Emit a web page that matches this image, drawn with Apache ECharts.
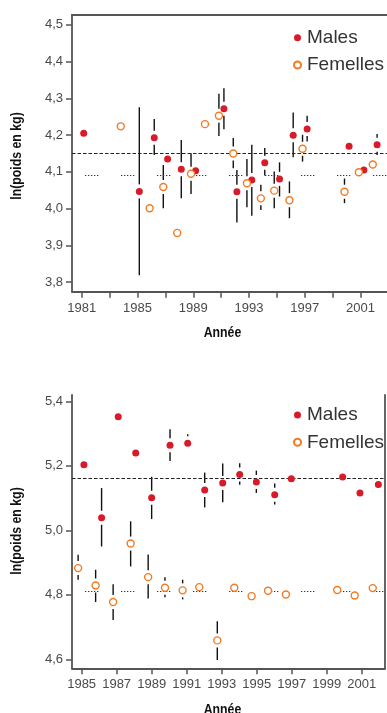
<!DOCTYPE html>
<html>
<head>
<meta charset="utf-8">
<script src="https://cdn.jsdelivr.net/npm/echarts@6/dist/echarts.min.js"></script>
<style>
html,body{margin:0;padding:0;background:#fff;}
#chart{width:387px;height:713px;}
</style>
</head>
<body>
<div id="chart"></div>
<script>
// ---------- Top panel data ----------
const topMaleX      = [1981.14, 1985.13, 1986.2, 1987.16, 1988.14, 1989.17, 1991.2, 1992.13, 1993.2, 1994.13, 1995.19, 1996.17, 1997.17, 2000.18, 2001.24, 2002.19];
const topMaleValues = [4.205, 4.047, 4.193, 4.135, 4.107, 4.103, 4.272, 4.046, 4.078, 4.125, 4.081, 4.200, 4.217, 4.170, 4.105, 4.174];
const topMaleLow    = [null, 3.819, 4.146, null, 4.028, null, 4.216, 3.962, 3.981, 4.090, 4.033, 4.140, 4.183, null, null, 4.146];
const topMaleHigh   = [null, 4.276, 4.244, null, 4.187, null, 4.328, 4.105, 4.174, 4.165, 4.126, 4.262, 4.253, null, null, 4.203];

const topFemaleX      = [1983.8, 1985.87, 1986.85, 1987.85, 1988.84, 1989.84, 1990.84, 1991.87, 1992.85, 1993.85, 1994.81, 1995.9, 1996.84, 1999.85, 2000.88, 2001.88];
const topFemaleValues = [4.224, 4.001, 4.059, 3.934, 4.095, 4.230, 4.253, 4.150, 4.069, 4.028, 4.049, 4.023, 4.163, 4.046, 4.099, 4.120];
const topFemaleLow    = [null, null, 4.001, null, 4.040, null, 4.198, 4.110, 4.004, 3.996, 4.001, 3.974, 4.128, 4.015, null, null];
const topFemaleHigh   = [null, null, 4.119, null, 4.151, null, 4.313, 4.192, 4.135, 4.065, 4.101, 4.074, 4.201, 4.082, null, null];

const topMaleMean = 4.15;
const topFemaleMean = 4.09;
const topYTicks = [3.8, 3.9, 4.0, 4.1, 4.2, 4.3, 4.4, 4.5];
const topXTicks = [1981, 1983, 1985, 1987, 1989, 1991, 1993, 1995, 1997, 1999, 2001];
const topXLabels = [1981, 1985, 1989, 1993, 1997, 2001];

// ---------- Bottom panel data ----------
const botMaleX      = [1985.13, 1986.14, 1987.09, 1988.09, 1989.0, 1990.05, 1991.06, 1992.03, 1993.06, 1994.03, 1994.98, 1996.03, 1996.98, 1999.91, 2000.9, 2001.95];
const botMaleValues = [5.203, 5.039, 5.352, 5.240, 5.101, 5.264, 5.270, 5.125, 5.147, 5.173, 5.150, 5.110, 5.160, 5.165, 5.116, 5.142];
const botMaleLow    = [null, 4.950, null, null, 5.035, 5.215, null, 5.071, 5.087, 5.141, 5.116, 5.080, null, null, null, null];
const botMaleHigh   = [null, 5.131, null, null, 5.166, 5.313, 5.298, 5.179, 5.207, 5.208, 5.185, 5.145, null, null, null, null];

const botFemaleX      = [1984.8, 1985.8, 1986.8, 1987.8, 1988.8, 1989.76, 1990.77, 1991.72, 1992.75, 1993.72, 1994.71, 1995.65, 1996.67, 1999.6, 2000.6, 2001.63];
const botFemaleValues = [4.883, 4.829, 4.778, 4.959, 4.855, 4.822, 4.814, 4.824, 4.659, 4.822, 4.796, 4.813, 4.801, 4.815, 4.798, 4.821];
const botFemaleLow    = [4.847, 4.778, 4.722, 4.888, 4.789, 4.793, 4.786, null, 4.598, null, null, null, null, null, null, null];
const botFemaleHigh   = [4.924, 4.878, 4.833, 5.028, 4.925, 4.855, 4.847, null, 4.718, null, null, null, null, null, null, null];

const botMaleMean = 5.164;
const botFemaleMean = 4.814;
const botYTicks = [4.6, 4.8, 5.0, 5.2, 5.4];
const botXTicks = [1985, 1987, 1989, 1991, 1993, 1995, 1997, 1999, 2001];

// ---------- styling ----------
const FONT = "'Liberation Sans', Arial, Helvetica, sans-serif";
const RED = '#d81b2b';
const ORANGE = '#f27a22';
const AXIS = '#555';

function pts(xs, vs) { return xs.map((x, i) => [x, vs[i]]); }
function bars(xs, vs, lo, hi) {
  const out = [];
  xs.forEach((x, i) => {
    if (lo[i] == null && hi[i] == null) return;
    out.push([x, vs[i], lo[i] == null ? vs[i] : lo[i], hi[i] == null ? vs[i] : hi[i]]);
  });
  return out;
}
function errRender(params, api) {
  const x = api.value(0), v = api.value(1), lo = api.value(2), hi = api.value(3);
  const p = api.coord([x, v]);
  const pl = api.coord([x, lo]);
  const ph = api.coord([x, hi]);
  const gap = 7;
  const st = { stroke: '#111', lineWidth: 1.4 };
  const children = [];
  if (p[1] - gap > ph[1] + 0.5) children.push({ type: 'line', shape: { x1: p[0], y1: ph[1], x2: p[0], y2: p[1] - gap }, style: st });
  if (pl[1] > p[1] + gap + 0.5) children.push({ type: 'line', shape: { x1: p[0], y1: p[1] + gap, x2: p[0], y2: pl[1] }, style: st });
  return { type: 'group', children: children };
}
const fmt = v => Number(v).toFixed(1).replace('.', ',');
const yearFmt = v => String(Math.round(v));
const dotted = [1.3, 1.7, 1.3, 1.7, 1.3, 1.7, 1.3, 1.7, 1.3, 22.7];

function xAxisMain(grid, min, max, ticks, labels) {
  return {
    type: 'value', gridIndex: grid, min: min, max: max, position: 'bottom',
    axisLine: { show: true, onZero: false, lineStyle: { color: AXIS, width: 1.8 } },
    axisTick: { show: true, customValues: ticks, length: 6, lineStyle: { color: AXIS, width: 1.5 } },
    axisLabel: { customValues: labels, interval: 0, hideOverlap: false, showMinLabel: true, showMaxLabel: true,
      margin: 10, fontSize: 13, color: '#4a4a4a', fontFamily: FONT, formatter: yearFmt },
    splitLine: { show: false }
  };
}
function yAxisMain(grid, min, max, ticks) {
  return {
    type: 'value', gridIndex: grid, min: min, max: max, position: 'left',
    axisLine: { show: true, onZero: false, lineStyle: { color: AXIS, width: 1.8 } },
    axisTick: { show: true, customValues: ticks, length: 6, lineStyle: { color: AXIS, width: 1.5 } },
    axisLabel: { customValues: ticks, margin: 9, fontSize: 13, color: '#4a4a4a', fontFamily: FONT, formatter: fmt },
    splitLine: { show: false }
  };
}
function meanLines(maleMean, femaleMean) {
  return {
    silent: true, symbol: ['none', 'none'], label: { show: false }, animation: false,
    data: [
      { yAxis: maleMean, lineStyle: { type: [3.5, 2], color: '#222', width: 1.1 } },
      { yAxis: femaleMean, lineStyle: { type: dotted, dashOffset: 23, color: '#333', width: 1.2 } }
    ]
  };
}
function scatterSeries(name, xi, yi, data, female, markLine) {
  const s = {
    name: name, type: 'scatter', xAxisIndex: xi, yAxisIndex: yi, data: data,
    symbol: 'circle', symbolSize: 7, z: 5,
    itemStyle: female ? { color: '#fff', borderColor: ORANGE, borderWidth: 1.4, opacity: 1 } : { color: RED, opacity: 1 }
  };
  if (markLine) s.markLine = markLine;
  return s;
}
function errSeries(xi, yi, data) {
  return { type: 'custom', xAxisIndex: xi, yAxisIndex: yi, data: data, renderItem: errRender, z: 2, silent: true,
    encode: { x: 0, y: [1, 2, 3] } };
}
function legendAt(top) {
  return {
    orient: 'vertical', left: 293, top: top, padding: 0, itemGap: 8.3,
    itemWidth: 9, itemHeight: 7, icon: 'circle',
    data: ['Males', 'Femelles'],
    textStyle: { fontSize: 19, color: '#333', fontFamily: FONT },
    selectedMode: false
  };
}
function title(text, x, y, rot) {
  return { type: 'text', x: x, y: y, rotation: rot || 0, scaleX: 0.82,
    style: { text: text, font: 'bold 15px ' + FONT, fill: '#111', align: 'center', verticalAlign: 'middle' } };
}

const chart = echarts.init(document.getElementById('chart'), null, { renderer: 'canvas' });
chart.setOption({
  animation: false,
  backgroundColor: '#fff',
  grid: [
    { left: 72, top: 15, width: 315, height: 276.7 },
    { left: 72, top: 394.8, width: 313, height: 273.5 }
  ],
  xAxis: [
    xAxisMain(0, 1980.3, 2002.9, topXTicks, topXLabels),
    { type: 'value', gridIndex: 0, min: 1980.3, max: 2002.9, position: 'top',
      axisLine: { show: true, onZero: false, lineStyle: { color: AXIS, width: 1.8 } },
      axisTick: { show: false }, axisLabel: { show: false }, splitLine: { show: false } },
    xAxisMain(1, 1984.45, 2002.33, botXTicks, botXTicks)
  ],
  yAxis: [
    yAxisMain(0, 3.774, 4.527, topYTicks),
    yAxisMain(1, 4.5725, 5.42, botYTicks),
    { type: 'value', gridIndex: 1, min: 4.5725, max: 5.42, position: 'right',
      axisLine: { show: true, onZero: false, lineStyle: { color: AXIS, width: 1.8 } },
      axisTick: { show: false }, axisLabel: { show: false }, splitLine: { show: false } }
  ],
  legend: [legendAt(28.2), legendAt(405.5)],
  series: [
    scatterSeries('Males', 0, 0, pts(topMaleX, topMaleValues), false, meanLines(topMaleMean, topFemaleMean)),
    scatterSeries('Femelles', 0, 0, pts(topFemaleX, topFemaleValues), true),
    errSeries(0, 0, bars(topMaleX, topMaleValues, topMaleLow, topMaleHigh)),
    errSeries(0, 0, bars(topFemaleX, topFemaleValues, topFemaleLow, topFemaleHigh)),
    scatterSeries('Males', 2, 1, pts(botMaleX, botMaleValues), false, meanLines(botMaleMean, botFemaleMean)),
    scatterSeries('Femelles', 2, 1, pts(botFemaleX, botFemaleValues), true),
    errSeries(2, 1, bars(botMaleX, botMaleValues, botMaleLow, botMaleHigh)),
    errSeries(2, 1, bars(botFemaleX, botFemaleValues, botFemaleLow, botFemaleHigh))
  ],
  graphic: [
    title('ln(poids en kg)', 17, 156, Math.PI / 2),
    title('Année', 222.5, 333),
    title('ln(poids en kg)', 17, 531, Math.PI / 2),
    title('Année', 222.5, 709.5)
  ]
});
</script>
</body>
</html>
